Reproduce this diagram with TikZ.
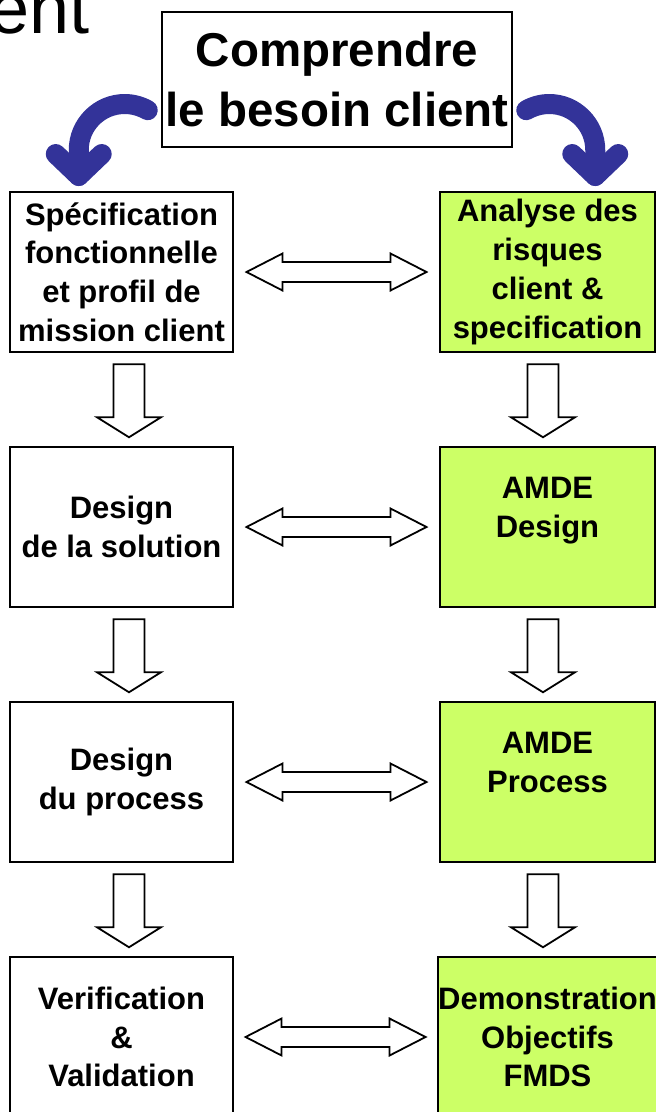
\documentclass[tikz,border=0pt]{standalone}
\usepackage{fontspec}
\setmainfont{Liberation Sans}
\usetikzlibrary{calc}
\definecolor{boxgreen}{RGB}{204,255,102}
\definecolor{arrowblue}{RGB}{51,51,153}
\newcommand{\boxfont}{\fontsize{31}{38.7}\selectfont\bfseries}
\newcommand{\titlefont}{\fontsize{47.5}{60}\selectfont\bfseries}
\newcommand{\bigfont}{\fontsize{72}{80}\selectfont}
\tikzset{
  box/.style={draw=black, line width=2.5pt, rectangle, inner sep=0pt, align=center, font=\boxfont, text=black},
  lbox/.style={box, fill=white, minimum width=223pt, minimum height=160pt},
  rbox/.style={box, fill=boxgreen, minimum width=215pt, minimum height=160pt},
  titlebox/.style={box, fill=white, font=\titlefont, minimum width=350pt, minimum height=135pt},
  blockarrow/.style={draw=black, line width=1.8pt, fill=white, line join=miter},
  curvearrow/.style={draw=arrowblue, line width=20pt, line cap=round, line join=round},
  dblarrow/.pic={\draw[blockarrow] (-90,0) -- (-54,-18.5) -- (-54,-10) -- (54,-10) -- (54,-18.5) -- (90,0) -- (54,18.5) -- (54,10) -- (-54,10) -- (-54,18.5) -- cycle;},
  downarrow/.pic={\draw[blockarrow] (-15.5,0) -- (15.5,0) -- (15.5,53) -- (32,53) -- (0,73) -- (-32,53) -- (-15.5,53) -- cycle;}
}
\begin{document}
\begin{tikzpicture}[x=1pt,y=-1pt]
\useasboundingbox (0,0) rectangle (656,1112);

\node[font=\bigfont, anchor=base east, inner sep=0pt] (ent) at (90,33) {ent};

\node[titlebox] (title) at (337,79.5) {Comprendre\\le besoin client};

\node[lbox] (l1) at (121.5,272) {Spécification\\fonctionnelle\\et profil de\\mission client};
\node[rbox] (r1) at (547.5,272) {Analyse des\\risques\\client \&\\specification};
\node[lbox] (l2) at (121.5,527) {Design\\de la solution};
\node[rbox] (r2) at (547.5,527) {AMDE\\Design\\\mbox{}};
\node[lbox] (l3) at (121.5,782) {Design\\du process};
\node[rbox] (r3) at (547.5,782) {AMDE\\Process\\\mbox{}};
\node[lbox] (l4) at (121.5,1037) {Verification\\\&\\Validation};
\node[rbox] (r4) at (547.5,1037) {Demonstration\\Objectifs\\FMDS};

% horizontal double block arrows
\pic at ($(l1.east)!0.5!(r1.west)$) {dblarrow};
\pic at ($(l2.east)!0.5!(r2.west)$) {dblarrow};
\pic at ($(l3.east)!0.5!(r3.west)$) {dblarrow};
\pic at ($(l4.east)!0.5!(r4.west)$) {dblarrow};

% vertical block arrows
\pic at ($(l1.south)+(7.5,11)$) {downarrow};
\pic at ($(l2.south)+(7.5,11)$) {downarrow};
\pic at ($(l3.south)+(7.5,11)$) {downarrow};
\pic at ($(r1.south)+(-4.5,11)$) {downarrow};
\pic at ($(r2.south)+(-4.5,11)$) {downarrow};
\pic at ($(r3.south)+(-4.5,11)$) {downarrow};

% curved blue arrows
\begin{scope}[shift={(title.west)}]
  \draw[curvearrow] (-13,30.7) .. controls (-20,26.7) and (-27.9,24.5) .. (-36,24.5)
        .. controls (-61.4,24.5) and (-82,45.1) .. (-82,70.5) -- (-82,96.5);
  \draw[curvearrow] (-105,74.5) -- (-82,96.5) -- (-59,74.5);
\end{scope}
\begin{scope}[shift={(title.east)}, xscale=-1]
  \draw[curvearrow] (-13,30.7) .. controls (-20,26.7) and (-27.9,24.5) .. (-36,24.5)
        .. controls (-61.4,24.5) and (-82,45.1) .. (-82,70.5) -- (-82,96.5);
  \draw[curvearrow] (-105,74.5) -- (-82,96.5) -- (-59,74.5);
\end{scope}
\end{tikzpicture}
\end{document}
